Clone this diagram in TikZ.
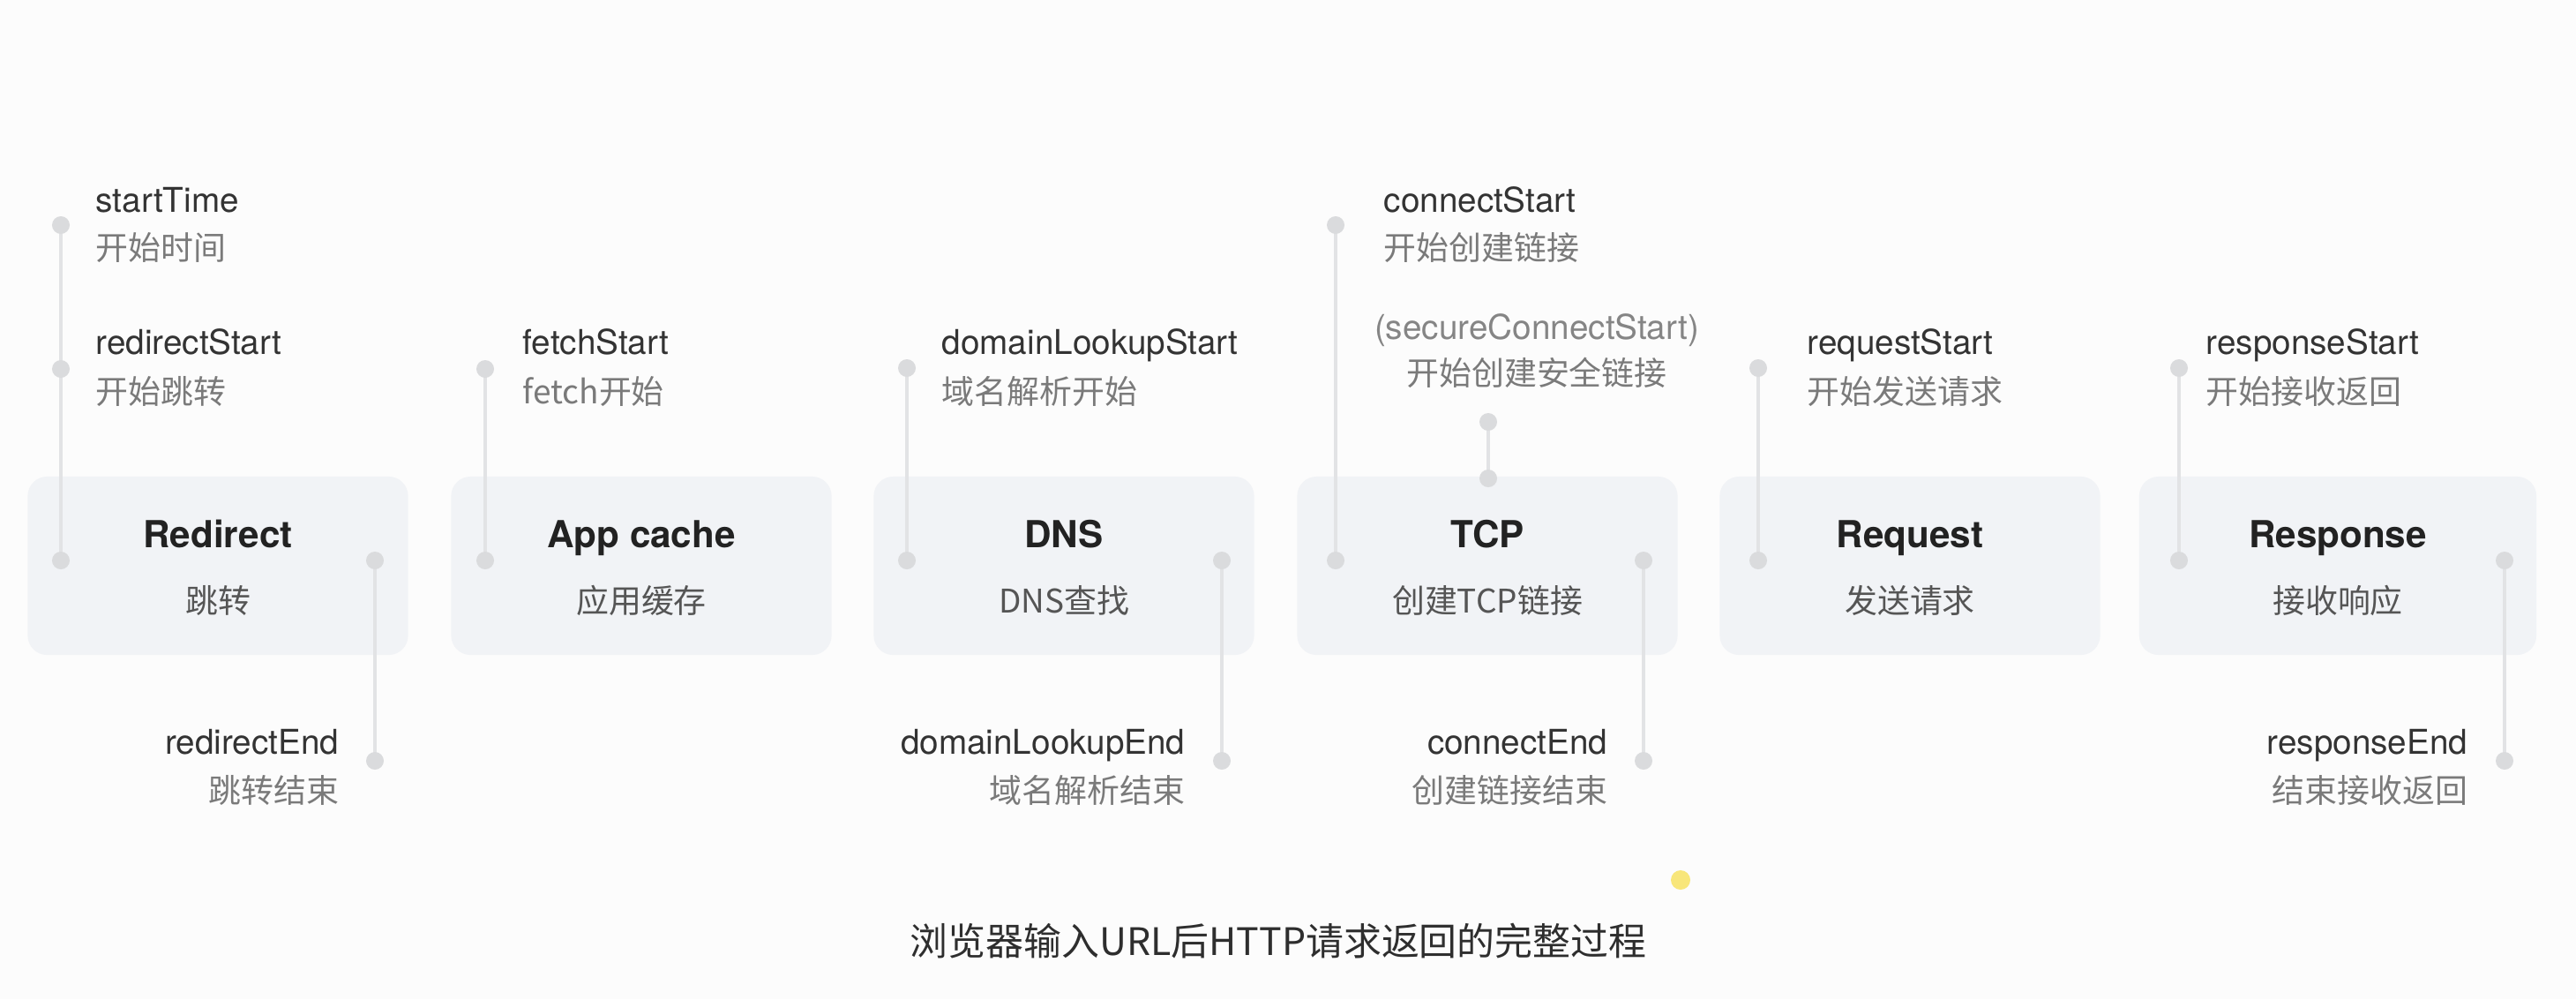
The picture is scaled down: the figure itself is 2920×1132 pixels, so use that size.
\documentclass[tikz,border=0pt]{standalone}
\usepackage{fontspec}
\setmainfont{TeX Gyre Heros}
\newfontfamily\cjk{Noto Sans CJK SC}
\definecolor{bgc}{HTML}{FCFCFC}
\definecolor{boxc}{HTML}{F1F3F6}
\definecolor{dotc}{HTML}{DADBDD}
\definecolor{linec}{HTML}{E2E3E5}
\definecolor{entext}{HTML}{333333}
\definecolor{cntext}{HTML}{7A7A7A}
\definecolor{sectext}{HTML}{858585}
\definecolor{ttext}{HTML}{222222}
\definecolor{stext}{HTML}{555555}
\definecolor{captext}{HTML}{2E2E2E}
\definecolor{cursorc}{HTML}{F8E67A}
\pgfdeclarelayer{bg}\pgfdeclarelayer{ln}\pgfsetlayers{bg,ln,main}
\begin{document}
\begin{tikzpicture}[x=0.01cm,y=-0.01cm,
 phase/.style={fill=boxc, rounded corners=0.22cm, minimum width=4.31cm, minimum height=2.02cm, inner sep=0},
 dot/.style={circle, fill=dotc, minimum size=0.2cm, inner sep=0},
 conn/.style={draw=linec, line width=1.15pt},
 en/.style={font=\fontsize{11}{13}\selectfont, text=entext, inner sep=0},
 cn/.style={font=\fontsize{10.5}{12}\selectfont\cjk, text=cntext, inner sep=0},
 ttl/.style={font=\fontsize{12}{14}\selectfont\bfseries, text=ttext, inner sep=0, anchor=base},
 sub/.style={font=\fontsize{10.5}{12}\selectfont\cjk, text=stext, inner sep=0, anchor=base},
]
\begin{pgfonlayer}{bg}
\fill[bgc] (0,0) rectangle (2920,1132);
\useasboundingbox (0,0) rectangle (2920,1132);
\node[phase] (bRed) at (247,641) {};
\node[phase] (bApp) at (727,641) {};
\node[phase] (bDns) at (1206,641) {};
\node[phase] (bTcp) at (1686,641) {};
\node[phase] (bReq) at (2165,641) {};
\node[phase, minimum width=4.50cm] (bRes) at (2650,641) {};
\end{pgfonlayer}

% titles
\node[ttl] (tRed) at (247,620) {Redirect};
\node[sub] (sRed) at (247,694) {跳转};
\node[ttl] (tApp) at (727,620) {App cache};
\node[sub] (sApp) at (727,694) {应用缓存};
\node[ttl] (tDns) at (1206,620) {DNS};
\node[sub] (sDns) at (1206,694) {DNS查找};
\node[ttl] (tTcp) at (1686,620) {TCP};
\node[sub] (sTcp) at (1686,694) {创建TCP链接};
\node[ttl] (tReq) at (2165,620) {Request};
\node[sub] (sReq) at (2165,694) {发送请求};
\node[ttl] (tRes) at (2650,620) {Response};
\node[sub] (sRes) at (2650,694) {接收响应};

% dots
\node[dot] (d1) at (69,255) {};
\node[dot] (d2) at (69,418) {};
\node[dot] (d3) at (69,635) {};
\node[dot] (d4) at (425,635) {};
\node[dot] (d5) at (425,862) {};
\node[dot] (a1) at (550,418) {};
\node[dot] (a2) at (550,635) {};
\node[dot] (n1) at (1028,417) {};
\node[dot] (n2) at (1028,635) {};
\node[dot] (n3) at (1385,635) {};
\node[dot] (n4) at (1385,862) {};
\node[dot] (t1) at (1514,255) {};
\node[dot] (t2) at (1514,635) {};
\node[dot] (t3) at (1687,478) {};
\node[dot] (t4) at (1687,542) {};
\node[dot] (t5) at (1863,635) {};
\node[dot] (t6) at (1863,862) {};
\node[dot] (r1) at (1993,417) {};
\node[dot] (r2) at (1993,635) {};
\node[dot] (s1) at (2470,417) {};
\node[dot] (s2) at (2470,635) {};
\node[dot] (s3) at (2839,635) {};
\node[dot] (s4) at (2839,862) {};

\begin{pgfonlayer}{ln}
\draw[conn] (d1.center) -- (d2.center);
\draw[conn] (d2.center) -- (d3.center);
\draw[conn] (d4.center) -- (d5.center);
\draw[conn] (a1.center) -- (a2.center);
\draw[conn] (n1.center) -- (n2.center);
\draw[conn] (n3.center) -- (n4.center);
\draw[conn] (t1.center) -- (t2.center);
\draw[conn] (t3.center) -- (t4.center);
\draw[conn] (t5.center) -- (t6.center);
\draw[conn] (r1.center) -- (r2.center);
\draw[conn] (s1.center) -- (s2.center);
\draw[conn] (s3.center) -- (s4.center);
\end{pgfonlayer}

% labels
\node[en, anchor=base west] (lST) at (108,240) {startTime};
\node[cn, anchor=base west] (cST) at (108,294) {开始时间};
\node[en, anchor=base west] (lRS) at (108,401) {redirectStart};
\node[cn, anchor=base west] (cRS) at (108,457) {开始跳转};
\node[en, anchor=base east] (lRE) at (385,854) {redirectEnd};
\node[cn, anchor=base east] (cRE) at (385,909) {跳转结束};
\node[en, anchor=base west] (lFS) at (592,401) {fetchStart};
\node[cn, anchor=base west] (cFS) at (592,457) {fetch开始};
\node[en, anchor=base west] (lDS) at (1067,401) {domainLookupStart};
\node[cn, anchor=base west] (cDS) at (1067,457) {域名解析开始};
\node[en, anchor=base east] (lDE) at (1344,854) {domainLookupEnd};
\node[cn, anchor=base east] (cDE) at (1344,909) {域名解析结束};
\node[en, anchor=base west] (lCS) at (1568,240) {connectStart};
\node[cn, anchor=base west] (cCS) at (1568,294) {开始创建链接};
\node[en, anchor=base, text=sectext] (lSC) at (1742,384) {(secureConnectStart)};
\node[cn, anchor=base] (cSC) at (1742,436) {开始创建安全链接};
\node[en, anchor=base east] (lCE) at (1823,854) {connectEnd};
\node[cn, anchor=base east] (cCE) at (1823,909) {创建链接结束};
\node[en, anchor=base west] (lQS) at (2048,401) {requestStart};
\node[cn, anchor=base west] (cQS) at (2048,457) {开始发送请求};
\node[en, anchor=base west] (lPS) at (2500,401) {responseStart};
\node[cn, anchor=base west] (cPS) at (2500,457) {开始接收返回};
\node[en, anchor=base east] (lPE) at (2798,854) {responseEnd};
\node[cn, anchor=base east] (cPE) at (2798,909) {结束接收返回};

% caption
\node[font=\fontsize{12.2}{14}\selectfont\cjk, text=captext, anchor=base, inner sep=0] (cap) at (1449,1082) {浏览器输入URL后HTTP请求返回的完整过程};
\node[circle, fill=cursorc, minimum size=0.22cm, inner sep=0] (cur) at (1905,997) {};
\end{tikzpicture}
\end{document}
